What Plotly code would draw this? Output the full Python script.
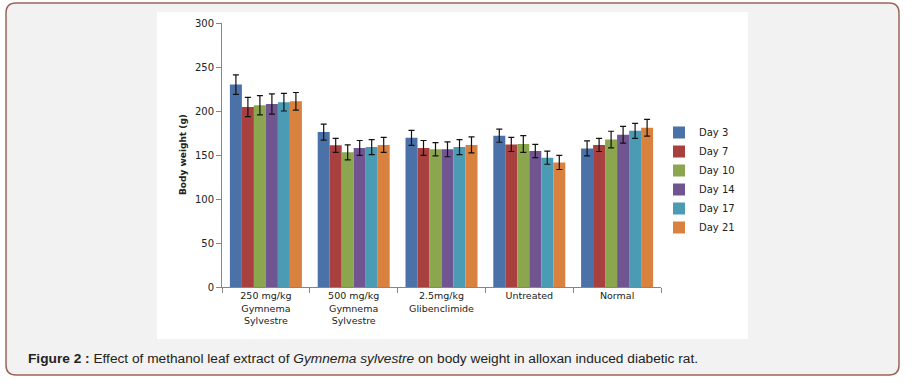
import plotly.graph_objects as go

categories = ["250 mg/kg<br>Gymnema<br>Sylvestre", "500 mg/kg<br>Gymnema<br>Sylvestre",
              "2.5mg/kg<br>Glibenclimide", "Untreated", "Normal"]
series_names = ["Day 3", "Day 7", "Day 10", "Day 14", "Day 17", "Day 21"]
day3 = [230, 176, 169.5, 172, 157.5]
day7 = [204.5, 161, 158, 162, 161.5]
day10 = [206.5, 153, 156.5, 162.5, 167.5]
day14 = [208, 158, 156.5, 154.5, 173]
day17 = [210, 159, 159, 147, 177.5]
day21 = [211, 161.5, 161.5, 141.5, 181]
err3 = [11, 9, 8.5, 7.5, 8.5]
err7 = [11, 8, 8.5, 8, 7.5]
err10 = [11, 8.5, 7.5, 9.5, 9.5]
err14 = [11.5, 8.5, 8.5, 7.5, 9.5]
err17 = [10, 8.5, 8.5, 7.5, 8.5]
err21 = [10, 8.5, 9, 8, 9.5]
colors = ["#4a72a8", "#a8403f", "#8ca650", "#715591", "#4a9bb3", "#d9813f"]

values = [day3, day7, day10, day14, day17, day21]
errors = [err3, err7, err10, err14, err17, err21]

W, H = 912, 383
L, R, T, B = 222, 661, 23, 287
PW, PH = R - L, B - T

fig = go.Figure()
for name, v, e, c in zip(series_names, values, errors, colors):
    fig.add_trace(go.Bar(
        x=categories, y=v, name=name, marker=dict(color=c, line=dict(width=0)),
        error_y=dict(type="data", array=e, visible=True, color="#111111", thickness=1.2, width=3),
    ))

def px(x):
    return (x - L) / PW

def py(y):
    return (B - y) / PH

# rounded outer panel
x0, x1, y0, y1, r = 6, 899, 3, 375, 10
path = (f"M {px(x0+r)} {py(y0)} L {px(x1-r)} {py(y0)} Q {px(x1)} {py(y0)} {px(x1)} {py(y0+r)} "
        f"L {px(x1)} {py(y1-r)} Q {px(x1)} {py(y1)} {px(x1-r)} {py(y1)} "
        f"L {px(x0+r)} {py(y1)} Q {px(x0)} {py(y1)} {px(x0)} {py(y1-r)} "
        f"L {px(x0)} {py(y0+r)} Q {px(x0)} {py(y0)} {px(x0+r)} {py(y0)} Z")

shapes = [
    dict(type="path", xref="paper", yref="paper", path=path, fillcolor="#f2f2f2",
         line=dict(color="#9c6458", width=1.5), layer="below"),
    dict(type="rect", xref="paper", yref="paper", x0=px(157), x1=px(748), y0=py(339), y1=py(12),
         fillcolor="white", line=dict(width=0), layer="below"),
]

fig.update_layout(
    width=W, height=H,
    margin=dict(l=L, r=W - R, t=T, b=H - B),
    paper_bgcolor="white", plot_bgcolor="rgba(0,0,0,0)",
    barmode="group", bargap=0.18, bargroupgap=0,
    font=dict(family="DejaVu Sans", size=9.5, color="#222222"),
    shapes=shapes,
    showlegend=True,
    legend=dict(x=px(659), y=py(118), xanchor="left", yanchor="top", bgcolor="rgba(0,0,0,0)",
                font=dict(family="DejaVu Sans", size=10, color="#222222"), tracegroupgap=0,
                itemwidth=30),
    xaxis=dict(showline=True, linecolor="#868686", linewidth=1, ticks="outside", tickson="boundaries",
               ticklen=5, tickcolor="#868686", showgrid=False, tickangle=0,
               tickfont=dict(size=9.5)),
    yaxis=dict(range=[0, 300], dtick=50, showline=True, linecolor="#868686", linewidth=1,
               ticks="outside", ticklen=5, tickcolor="#868686", showgrid=False, zeroline=False,
               tickfont=dict(size=10)),
    annotations=[
        dict(x=px(176), y=py(155), xref="paper", yref="paper", text="<b>Body weight (g)</b>",
             textangle=-90, showarrow=False, font=dict(size=9, family="DejaVu Sans", color="#222222")),
        dict(x=px(26), y=py(358), xref="paper", yref="paper", xanchor="left", yanchor="middle",
             text="<b>Figure 2 :</b> Effect of methanol leaf extract of <i>Gymnema sylvestre</i> on body weight in alloxan induced diabetic rat.",
             showarrow=False, font=dict(size=13.7, family="Liberation Sans", color="#222222")),
    ],
)

fig.write_html("out.html", config={"displayModeBar": False},
               post_script="document.body.style.margin='0px';document.body.style.overflow='hidden';")
